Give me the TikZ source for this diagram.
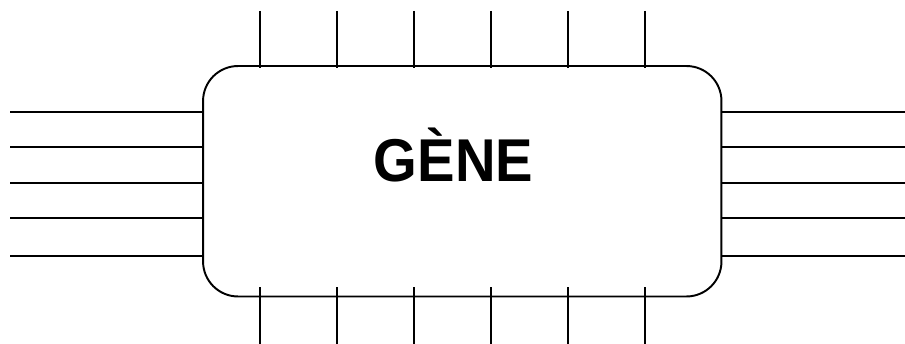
\documentclass[tikz,border=0pt]{standalone}
\usepackage{fontspec}
\newfontfamily\genefont{Liberation Sans}
\usetikzlibrary{calc}

\begin{document}
\begin{tikzpicture}[x=0.02cm, y=-0.02cm, line width=1pt]
    % Box with pins on every side; units are pixels of the sketch
    \def\boxw{10.37cm}   % box width
    \def\boxh{4.61cm}    % box height
    \tikzset{
      genebox/.style={draw, line width=1.1pt, rounded corners=0.7cm, inner sep=0pt,
        minimum width=\boxw, minimum height=\boxh},
      pin/.style={line width=1pt, line cap=butt},
    }
    \useasboundingbox (0,0) rectangle (905,344);

    \node[genebox] (gene) at (462.25,181.25) {};
    \node[font=\genefont\bfseries\fontsize{34.4}{40}\selectfont, anchor=base, inner sep=0pt,
      xscale=0.93] (genelabel) at (453.5,182) {GÈNE};

    % top and bottom pins
    \foreach \x [count=\i] in {260,337,414,491,568,645} {
      \coordinate (top\i) at (\x,11);
      \coordinate (bot\i) at (\x,344);
      \draw[pin] (top\i) -- ([yshift=-0.06cm]top\i |- gene.north);
      \draw[pin] (bot\i) -- ([yshift=0.2cm]bot\i |- gene.south);
    }

    % left and right pins
    \foreach \y [count=\i] in {112,147.3,182.7,218,256.3} {
      \coordinate (lft\i) at (10,\y);
      \coordinate (rgt\i) at (905,\y);
      \draw[pin] (lft\i) -- (lft\i -| gene.west);
      \draw[pin] (rgt\i) -- (rgt\i -| gene.east);
    }
  \end{tikzpicture}
\end{document}
